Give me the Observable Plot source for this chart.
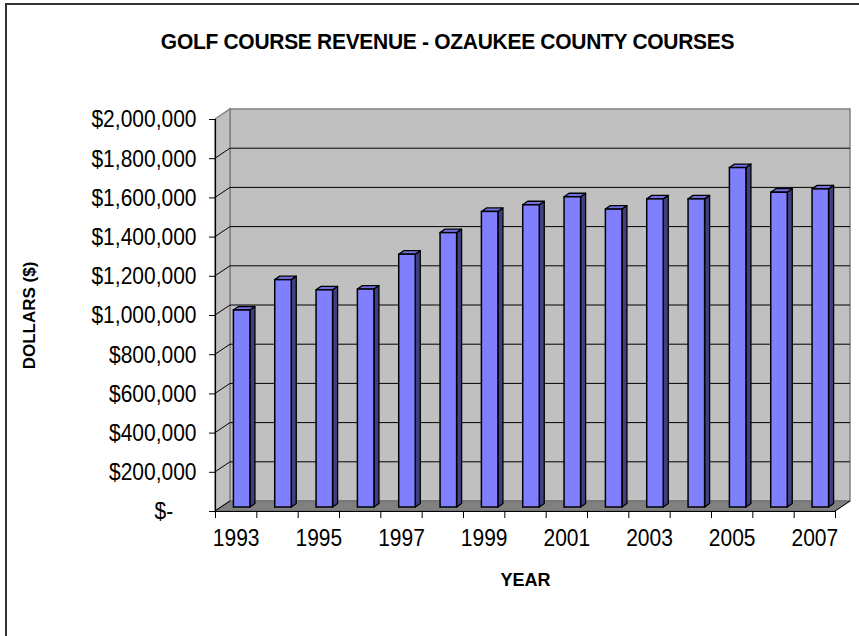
<!DOCTYPE html>
<html><head><meta charset="utf-8">
<script src="https://cdn.jsdelivr.net/npm/d3@7"></script>
<script src="https://cdn.jsdelivr.net/npm/@observablehq/plot@0.6"></script>
<style>
html,body{margin:0;padding:0;background:#fff;}
#chart{position:relative;width:859px;height:636px;overflow:hidden;font-family:"Liberation Sans",Arial,sans-serif;}
#frame{position:absolute;left:5px;top:3px;width:900px;height:700px;border-left:2px solid #333;border-top:2px solid #333;}
#title{position:absolute;top:30px;left:36px;width:823px;text-align:center;font-weight:bold;font-size:21px;line-height:21px;letter-spacing:-0.3px;white-space:nowrap;transform:scaleY(1.08);}
#plot{position:absolute;left:0;top:70px;}
</style></head><body>
<div id="chart"><div id="frame"></div><div id="title">GOLF COURSE REVENUE - OZAUKEE COUNTY COURSES</div><div id="plot"></div></div>
<script>
// ---- data ----
const years = [1993, 1994, 1995, 1996, 1997, 1998, 1999, 2000, 2001, 2002, 2003, 2004, 2005, 2006, 2007];
const revenue = [1005000, 1160000, 1108000, 1112000, 1290000, 1400000, 1508000, 1542000, 1583000, 1520000, 1572000, 1572000, 1732000, 1606000, 1623000];
const yTicks = [0, 200000, 400000, 600000, 800000, 1000000, 1200000, 1400000, 1600000, 1800000, 2000000];
const yTickLabels = ["$-\u00a0\u00a0\u00a0\u00a0", "$200,000", "$400,000", "$600,000", "$800,000", "$1,000,000", "$1,200,000", "$1,400,000", "$1,600,000", "$1,800,000", "$2,000,000"];
const xLabelYears = [1993, 1995, 1997, 1999, 2001, 2003, 2005, 2007];
const xTickLabels = ["1993", "1995", "1997", "1999", "2001", "2003", "2005", "2007"];
const yMax = 2000000;

const data = years.map((year, i) => ({year, value: revenue[i]}));

// 3D geometry (pixels)
const WALL = {dx: 15, dy: -10};
const BAR = {dx: 6, dy: -4, depthX: 5, depthY: -3.5, inset: 12.4};

const yLabelMap = new Map(yTicks.map((t, i) => [t, yTickLabels[i]]));
const xLabelPos = xLabelYears.map(y => y + 0.5);
const xLabelMap = new Map(xLabelPos.map((p, i) => [p, xTickLabels[i]]));
const boundaries = d3.range(years[0], years[years.length - 1] + 2);

function walls(index, scales) {
  const x = scales.x, y = scales.y;
  const x0 = x(years[0]), x1 = x(years[years.length - 1] + 1);
  const yb = y(0), yt = y(yMax);
  const g = d3.create("svg:g");
  g.append("rect").attr("x", x0 + WALL.dx).attr("y", yt + WALL.dy)
    .attr("width", x1 - x0).attr("height", yb - yt)
    .attr("fill", "#c0c0c0").attr("stroke", "#808080").attr("stroke-width", 1.5);
  g.append("path")
    .attr("d", `M${x0},${yt}L${x0 + WALL.dx},${yt + WALL.dy}L${x0 + WALL.dx},${yb + WALL.dy}L${x0},${yb}Z`)
    .attr("fill", "#c0c0c0").attr("stroke", "#808080").attr("stroke-width", 1.5);
  for (const v of yTicks.slice(1, -1)) {
    const yy = y(v);
    g.append("line").attr("x1", x0 + WALL.dx).attr("x2", x1 + WALL.dx)
      .attr("y1", yy + WALL.dy).attr("y2", yy + WALL.dy)
      .attr("stroke", "#000").attr("stroke-width", 1);
    g.append("line").attr("x1", x0).attr("x2", x0 + WALL.dx)
      .attr("y1", yy).attr("y2", yy + WALL.dy)
      .attr("stroke", "#000").attr("stroke-width", 1);
  }
  g.append("path")
    .attr("d", `M${x0},${yb}L${x1},${yb}L${x1 + WALL.dx},${yb + WALL.dy}L${x0 + WALL.dx},${yb + WALL.dy}Z`)
    .attr("fill", "#808080").attr("stroke", "#666").attr("stroke-width", 1);
  g.append("line").attr("x1", x1).attr("y1", yb).attr("x2", x1 + WALL.dx).attr("y2", yb + WALL.dy)
    .attr("stroke", "#000").attr("stroke-width", 1);
  g.append("line").attr("x1", x0).attr("y1", yb).attr("x2", x0 + WALL.dx).attr("y2", yb + WALL.dy)
    .attr("stroke", "#000").attr("stroke-width", 1);
  return g.node();
}

function barFaces(index, scales) {
  const x = scales.x, y = scales.y;
  const g = d3.create("svg:g").attr("stroke", "#000").attr("stroke-width", 1.3).attr("stroke-linejoin", "round");
  const yb = y(0) + BAR.dy;
  for (const d of data) {
    const xl = x(d.year) + BAR.inset + BAR.dx;
    const xr = x(d.year + 1) - BAR.inset + BAR.dx;
    const yt = y(d.value) + BAR.dy;
    g.append("path")
      .attr("d", `M${xr},${yt}L${xr + BAR.depthX},${yt + BAR.depthY}L${xr + BAR.depthX},${yb + BAR.depthY}L${xr},${yb}Z`)
      .attr("fill", "#404080");
    g.append("path")
      .attr("d", `M${xl},${yt}L${xl + BAR.depthX},${yt + BAR.depthY}L${xr + BAR.depthX},${yt + BAR.depthY}L${xr},${yt}Z`)
      .attr("fill", "#7070e0");
  }
  return g.node();
}

const svg = Plot.plot({
  width: 859, height: 566,
  marginLeft: 215, marginRight: 24, marginTop: 49, marginBottom: 125,
  x: {type: "linear", domain: [years[0], years[years.length - 1] + 1]},
  y: {domain: [0, yMax]},
  style: {fontFamily: '"Liberation Sans", Arial, sans-serif', fontSize: "21px", color: "#000", background: "transparent", overflow: "visible"},
  marks: [
    walls,
    barFaces,
    Plot.rect(data, {x1: "year", x2: d => d.year + 1, y1: 0, y2: "value",
      insetLeft: BAR.inset, insetRight: BAR.inset, dx: BAR.dx, dy: BAR.dy,
      fill: "#8080ff", stroke: "#000", strokeWidth: 1.5}),
    Plot.ruleY([0], {stroke: "#000", strokeWidth: 1.2}),
    Plot.ruleX([years[0]], {y1: 0, y2: yMax, stroke: "#000", strokeWidth: 1.2}),
    Plot.axisY({ticks: yTicks, tickSize: 6, tickPadding: 13, tickFormat: d => yLabelMap.get(d), fontSize: 21, label: null}),
    Plot.axisX({ticks: boundaries, tickSize: 7, tickFormat: () => "", label: null}),
    Plot.axisX({ticks: xLabelPos, tickSize: 0, tickPadding: 17, tickFormat: d => xLabelMap.get(d), fontSize: 21, label: null}),
    Plot.text(["DOLLARS ($)"], {text: d => d, frameAnchor: "left", textAnchor: "middle", lineAnchor: "middle", dx: -186, rotate: -90, fontWeight: "bold", fontSize: 17}),
    Plot.text(["YEAR"], {text: d => d, frameAnchor: "bottom", textAnchor: "middle", lineAnchor: "middle", dy: 69, fontWeight: "bold", fontSize: 18})
  ]
});

// stretch tick labels vertically, like the reference rendering
d3.select(svg).selectAll('g[aria-label$="tick label"] text').each(function() {
  const t = this.getAttribute("transform");
  if (t) {
    this.setAttribute("transform", t + " scale(1,1.18)");
  } else {
    const x = +this.getAttribute("x") || 0, y = +this.getAttribute("y") || 0;
    this.setAttribute("transform", `translate(${x},${y}) scale(1,1.18) translate(${-x},${-y})`);
  }
});
document.getElementById("plot").appendChild(svg);
</script>
</body></html>
